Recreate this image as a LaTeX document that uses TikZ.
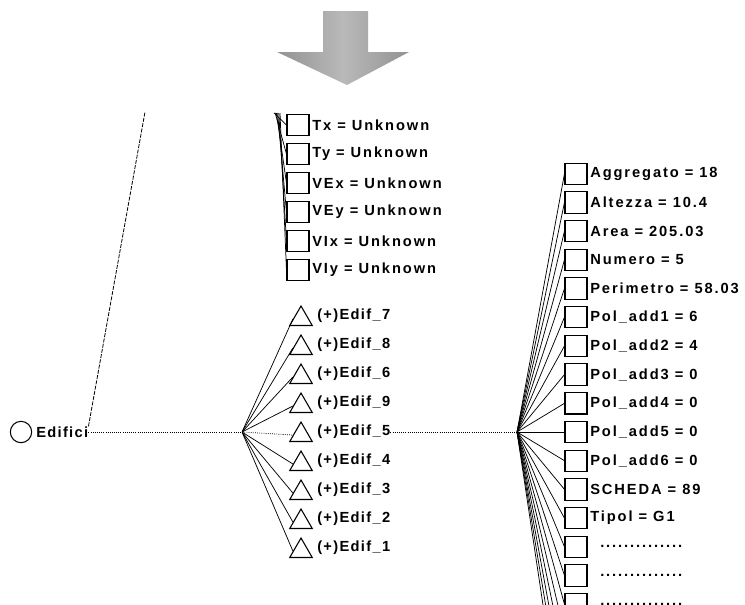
\documentclass[tikz,border=0pt]{standalone}
\usepackage{fontspec}
\setmainfont{Liberation Sans}
\usetikzlibrary{shapes.geometric}
\begin{document}
\begin{tikzpicture}[x=0.75pt,y=-0.75pt,
  lbl/.style={font=\fontsize{11}{13}\selectfont\bfseries\addfontfeatures{LetterSpace=13}, inner sep=0pt, anchor=west},
  sublbl/.style={lbl, font=\fontsize{11}{13}\selectfont\bfseries\addfontfeatures{LetterSpace=9}},
  sq/.style={draw, line width=0.8pt, minimum width=16.5pt, minimum height=16pt, inner sep=0pt},
  tri/.style={draw, line width=0.8pt, regular polygon, regular polygon sides=3, minimum size=19.5pt, inner sep=0pt},
  rootnode/.style={draw, line width=0.8pt, circle, minimum size=16pt, inner sep=0pt},
  link/.style={line width=0.55pt},
  mainlink/.style={line width=0.6pt, densely dotted},
  uplink/.style={line width=0.6pt, dash pattern=on 3pt off 1pt},
  hub/.style={inner sep=0pt, minimum size=0pt}
]
\useasboundingbox (0,0) rectangle (745,604);
\clip (0,0) rectangle (745,604);

% big downward block arrow
\shade[left color=gray!85, right color=gray!85, middle color=gray!55]
  (323,11) -- (368,11) -- (368,52) -- (409,52) -- (347,85) -- (277,52) -- (323,52) -- cycle;

% root
\node[rootnode] (root) at (21,432) {};
\node[sublbl] (rootlbl) at (36,432) {Edifici};
\coordinate (rootup) at (145,112);
\draw[uplink] (rootlbl.north east) -- (rootup);

% hubs
\node[hub] (hubA) at (242,432) {};
\node[hub] (hubB) at (517,432) {};
\draw[mainlink] (rootlbl.east) -- (hubA);

% upper attribute boxes
\foreach \n/\t [count=\i from 0] in {tx/Tx = Unknown, ty/Ty = Unknown, vex/VEx = Unknown,
    vey/VEy = Unknown, vix/VIx = Unknown, viy/VIy = Unknown}{
  \node[sq] (\n) at (298,{125+29*\i}) {};
  \node[lbl] (\n-l) at (312,{125+29*\i}) {\t};
  \coordinate (\n-top) at ({274+1.2*\i},113);
  \draw[link] (\n-top) -- (\n.west);
}

% sub-buildings
\foreach \n/\t [count=\i from 0] in {e7/7, e8/8, e6/6, e9/9, e5/5, e4/4, e3/3, e2/2, e1/1}{
  \node[tri] (\n) at (301,{319+29*\i}) {};
  \node[sublbl] (\n-l) at (317,{316+29*\i}) {(+)Edif\_\t};
}
\foreach \n in {e7,e8,e6,e9,e4,e3,e2,e1}{
  \draw[link] (hubA) -- (\n.west);
}
\draw[mainlink] (hubA) -- (e5.west);
\draw[mainlink] (e5-l.east) -- (hubB);

% attributes of Edif_5
\foreach \n/\t [count=\i from 0] in {agg/Aggregato = 18, alt/Altezza = 10.4, area/Area = 205.03,
    num/Numero = 5, per/Perimetro = 58.03, pa1/Pol\_add1 = 6, pa2/Pol\_add2 = 4,
    pa3/Pol\_add3 = 0, pa4/Pol\_add4 = 0, pa5/Pol\_add5 = 0, pa6/Pol\_add6 = 0,
    sch/SCHEDA = 89, tip/Tipol = G1}{
  \node[sq] (\n) at (576,{432+28.7*(\i-9)}) {};
  \node[lbl] (\n-l) at (590,{432+28.7*(\i-9)}) {\t};
  \draw[link] (hubB) -- (\n.west);
}
\foreach \n [count=\i from 13] in {d1,d2,d3}{
  \node[sq] (\n) at (576,{432+28.7*(\i-9)}) {};
  \node[lbl] (\n-l) at (600,{432+28.7*(\i-9)}) {..............};
  \draw[link] (hubB) -- (\n.west);
}
\foreach \n [count=\i from 16] in {d4,d5,d6,d7,d8}{
  \node[sq] (\n) at (576,{432+28.7*(\i-9)}) {};
  \draw[link] (hubB) -- (\n.west);
}
\end{tikzpicture}
\end{document}
